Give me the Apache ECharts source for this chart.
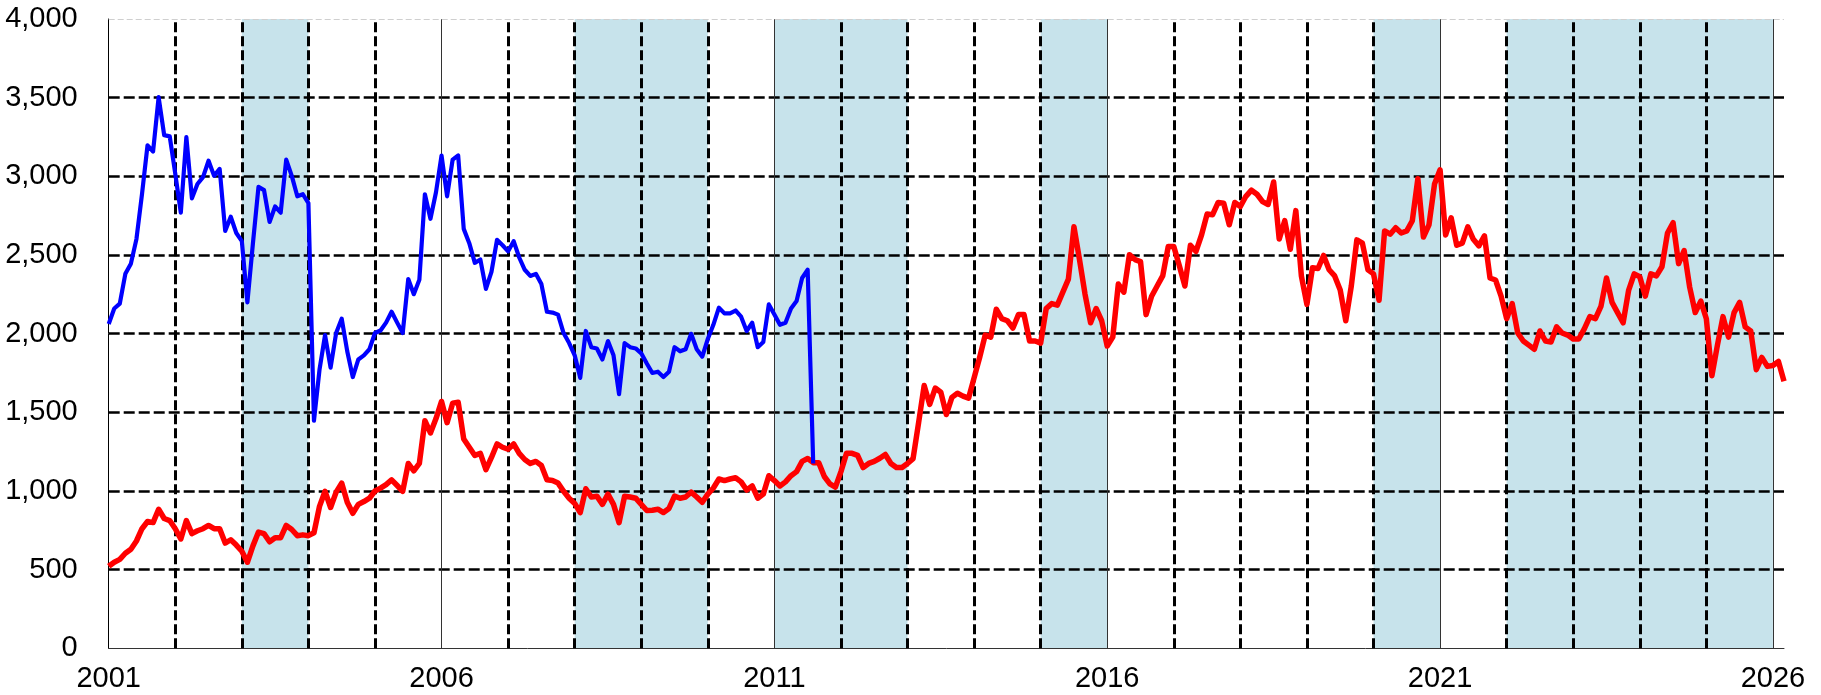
<!DOCTYPE html>
<html>
<head>
<meta charset="utf-8">
<script src="https://cdn.jsdelivr.net/npm/echarts@6/dist/echarts.min.js"></script>
<style>
html,body{margin:0;padding:0;background:#fff;}
#chart{width:1821px;height:695px;}
</style>
</head>
<body>
<div id="chart"></div>
<script>
// Monthly series starting January 2001
const startYear = 2001;
const blueValues = [
 2061,2160,2191,2380,2445,2601,2886,3197,3158,3503,3262,3254,
 3016,2769,3249,2860,2951,2995,3099,3003,3047,2653,2743,2640,
 2588,2199,2575,2933,2912,2710,2808,2769,3106,3003,2873,2886,
 2829,1447,1771,1991,1784,2004,2095,1888,1724,1836,1862,1901,
 2004,2020,2070,2139,2070,2004,2347,2251,2342,2886,2730,2899,
 3132,2873,3106,3132,2666,2575,2450,2471,2284,2393,2596,2562,
 2523,2588,2484,2406,2367,2380,2315,2139,2134,2121,2004,1940,
 1862,1719,2017,1914,1906,1836,1953,1862,1615,1940,1914,1906,
 1875,1810,1750,1758,1724,1758,1914,1888,1901,1999,1901,1854,
 1966,2056,2165,2129,2129,2147,2108,2017,2069,1914,1947,2186,
 2121,2056,2069,2160,2207,2354,2406,1175
];
const redValues = [
 521,547,565,604,630,682,760,806,799,884,825,812,
 760,695,812,729,747,760,781,760,760,669,690,656,
 617,547,651,739,729,677,703,703,781,755,716,721,
 716,734,902,998,895,993,1050,928,858,915,933,954,
 1000,1018,1040,1071,1035,998,1175,1128,1175,1447,1369,1460,
 1569,1434,1558,1564,1330,1278,1226,1239,1136,1213,1299,1278,
 1265,1299,1239,1200,1175,1188,1162,1071,1066,1050,998,954,
 921,863,1014,962,967,915,980,915,799,967,962,954,
 915,876,878,884,863,889,967,954,962,993,962,928,
 980,1019,1076,1066,1076,1084,1058,1006,1032,954,980,1097,
 1066,1032,1058,1097,1123,1188,1206,1180,1180,1092,1045,1024,
 1123,1239,1239,1226,1149,1175,1188,1208,1232,1175,1149,1149,
 1175,1206,1434,1670,1550,1654,1628,1486,1595,1621,1603,1590,
 1719,1849,1991,1978,2155,2095,2082,2036,2121,2121,1953,1953,
 1940,2160,2191,2181,2264,2347,2679,2471,2251,2069,2160,2082,
 1921,1978,2315,2264,2502,2471,2458,2121,2238,2303,2367,2554,
 2554,2432,2303,2562,2523,2627,2760,2756,2834,2829,2692,2834,
 2808,2873,2912,2886,2839,2821,2964,2601,2718,2536,2782,2367,
 2186,2419,2414,2497,2406,2367,2277,2082,2303,2596,2575,2406,
 2380,2212,2653,2632,2673,2640,2653,2718,2985,2614,2692,2951,
 3042,2627,2736,2562,2575,2679,2600,2558,2622,2354,2341,2238,
 2095,2191,2004,1953,1927,1901,2017,1953,1947,2043,2004,1991,
 1966,1966,2030,2108,2095,2173,2354,2199,2134,2069,2277,2380,
 2362,2238,2380,2367,2425,2640,2705,2445,2528,2295,2134,2207,
 2095,1732,1927,2108,1978,2134,2199,2043,2017,1771,1849,1792,
 1797,1823,1698
];
const shadedPeriods = [[2003,2004],[2008,2010],[2011,2013],[2015,2016],[2020,2021],[2022,2026]];
const yearLines = [2002,2003,2004,2005,2006,2007,2008,2009,2010,2011,2012,2013,2014,2015,2016,2017,2018,2019,2020,2021,2022,2023,2024,2025,2026];
const majorYears = [2006,2011,2016,2021,2026];
const yMin = 0, yMax = 4000, yStep = 500;

const toPairs = vals => vals.map((v, i) => [startYear + i / 12, v]);
const xMax = startYear + (redValues.length - 1) / 12;

const labelFont = '"Liberation Sans",Arial,sans-serif';

const vLines = yearLines.map(y => majorYears.indexOf(y) >= 0
  ? { xAxis: y, lineStyle: { color: '#333', width: 1, type: 'solid' } }
  : { xAxis: y, lineStyle: { color: '#000', width: 3, type: [10, 4] } });
vLines.push({ yAxis: yMax, lineStyle: { color: '#cfcfcf', width: 1, type: [6, 3] } });

const chart = echarts.init(document.getElementById('chart'));
chart.setOption({
  animation: false,
  backgroundColor: '#fff',
  grid: { left: 108.7, right: 37, top: 19, bottom: 46.7, containLabel: false },
  xAxis: {
    type: 'value', min: startYear, max: xMax, interval: 1, z: 1,
    axisLine: { show: true, lineStyle: { color: '#333', width: 1 } },
    axisTick: { show: false },
    splitLine: { show: false },
    axisLabel: {
      showMaxLabel: false,
      margin: 16, fontSize: 29, color: '#000', fontFamily: labelFont,
      formatter: v => {
        const r = Math.round(v);
        return (Math.abs(v - r) < 1e-6 && (r - startYear) % 5 === 0) ? String(r) : '';
      }
    }
  },
  yAxis: {
    type: 'value', min: yMin, max: yMax, interval: yStep, z: 1,
    axisLine: { show: true, lineStyle: { color: '#000', width: 1 } },
    axisTick: { show: false },
    axisLabel: {
      margin: 31, fontSize: 29, color: '#000', fontFamily: labelFont,
      formatter: v => v.toLocaleString('en-US')
    },
    splitLine: {
      show: true, showMinLine: false, showMaxLine: false,
      lineStyle: { color: '#000', width: 2.5, type: [11, 4] }
    }
  },
  series: [
    {
      type: 'line', name: 'red', data: toPairs(redValues), showSymbol: false, z: 3,
      lineStyle: { color: '#ff0000', width: 5.5, join: 'round' },
      markArea: {
        silent: true, z: 0.5,
        itemStyle: { color: '#c7e3eb' },
        data: shadedPeriods.map(p => [{ xAxis: p[0] }, { xAxis: p[1] }])
      },
      markLine: {
        silent: true, z: 1.2, symbol: 'none', label: { show: false },
        data: vLines
      }
    },
    {
      type: 'line', name: 'blue', data: toPairs(blueValues), showSymbol: false, z: 4,
      lineStyle: { color: '#0000ff', width: 4.2, join: 'round' }
    }
  ]
});
</script>
</body>
</html>
